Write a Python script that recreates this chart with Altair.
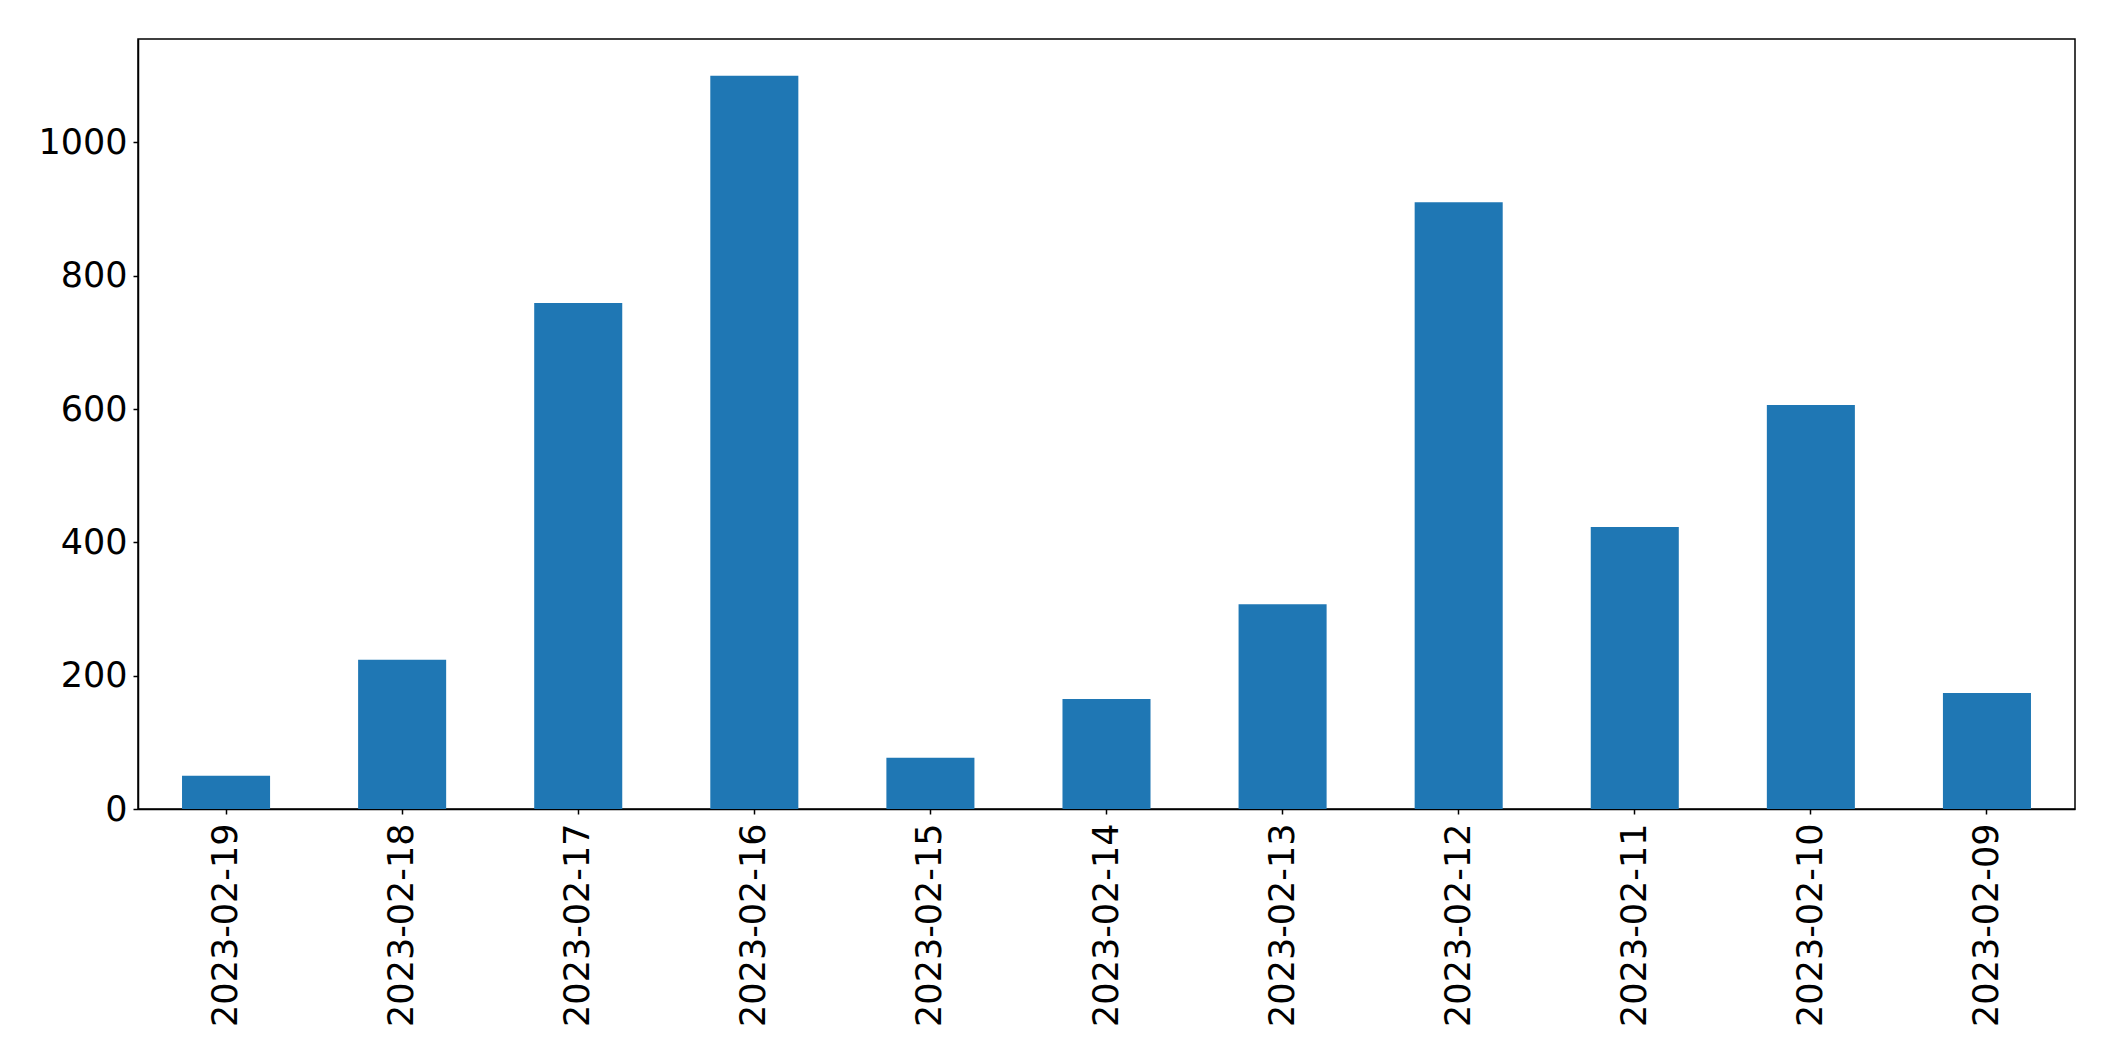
import altair as alt
import pandas as pd

dates = ["2023-02-19", "2023-02-18", "2023-02-17", "2023-02-16", "2023-02-15",
         "2023-02-14", "2023-02-13", "2023-02-12", "2023-02-11", "2023-02-10",
         "2023-02-09"]
counts = [50, 224, 759, 1100, 77, 165, 307, 910, 423, 606, 174]
y_ticks = [0, 200, 400, 600, 800, 1000]

df = pd.DataFrame({"date": dates, "count": counts})

chart = alt.Chart(df).mark_bar(color="#1f77b4").encode(
    x=alt.X("date:N", sort=None, title=None,
            scale=alt.Scale(paddingInner=0.5, paddingOuter=0.25),
            axis=alt.Axis(labelAngle=-90, labelAlign="right", labelBaseline="middle",
                          labelPadding=9, tickSize=5, labelFontSize=35, labelLimit=0)),
    y=alt.Y("count:Q", title=None,
            scale=alt.Scale(domain=[0, 1155], nice=False, zero=True),
            axis=alt.Axis(values=y_ticks, format="d", tickSize=5, labelPadding=6,
                          labelFontSize=35, grid=False)),
).properties(
    width=1937, height=770,
    autosize=alt.AutoSizeParams(type="none"),
    padding={"left": 130, "top": 31, "right": 30, "bottom": 220},
).configure_view(
    stroke="black", strokeWidth=1.5
).configure_axis(
    domainColor="black", domainWidth=1.5, tickColor="black", tickWidth=1.5,
    labelColor="black", labelFont="DejaVu Sans", grid=False, labelFlush=False,
    labelOverlap=False
)

chart.save("out.html", embed_options={"renderer": "svg", "actions": False})
